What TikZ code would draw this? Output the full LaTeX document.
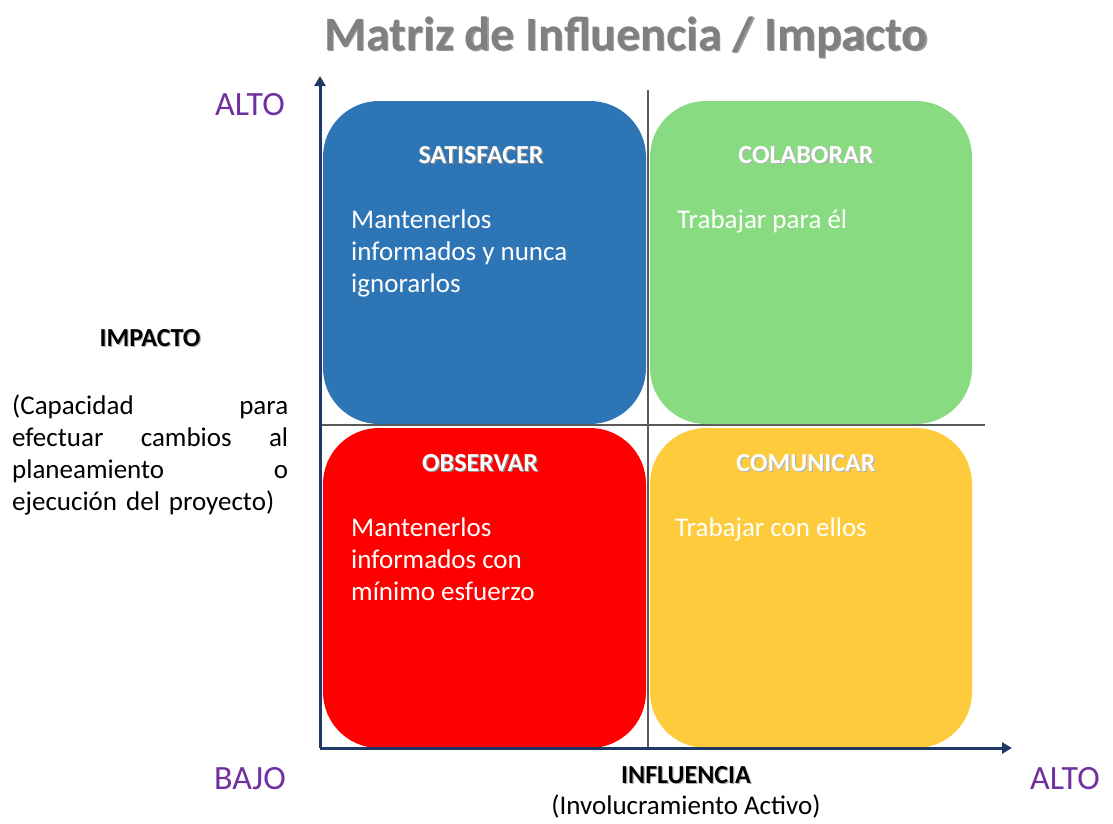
\documentclass[tikz,border=0pt]{standalone}
\usepackage{fontspec}
\setmainfont{Carlito}
\usepackage{xcolor}
\usepackage{tikz}
\usetikzlibrary{arrows.meta, positioning, calc}

\definecolor{cajaazul}{HTML}{2E75B6}
\definecolor{cajaverde}{HTML}{88DB80}
\definecolor{cajaroja}{HTML}{FF0000}
\definecolor{cajaamarilla}{HTML}{FDCB3B}
\definecolor{morado}{HTML}{7030A0}
\definecolor{ejeazul}{HTML}{1F3864}
\definecolor{grisrejilla}{HTML}{5A5A5A}
\definecolor{gristitulo}{HTML}{808080}

\newcommand{\conSombra}[2]{\leavevmode\rlap{\kern1.2pt\raisebox{-1.2pt}{\textcolor{#1}{#2}}}#2}

\begin{document}
\begin{tikzpicture}[x=1pt, y=-1pt]
\tikzstyle{cuadrante} = [rectangle, rounded corners=56pt, inner sep=0pt, draw=none]
\tikzstyle{encabezado} = [inner sep=0pt, anchor=base, text=white, font=\fontsize{26}{31}\selectfont\bfseries]
\tikzstyle{texto} = [inner sep=0pt, anchor=north west, align=left, text=white, font=\fontsize{27}{32}\selectfont]
\tikzstyle{nivel} = [inner sep=0pt, anchor=base, text=morado, font=\fontsize{34}{40}\selectfont]
\tikzstyle{eje} = [ejeazul, line width=3pt, -{Triangle[length=10pt,width=11pt]}]
\tikzstyle{rejilla} = [grisrejilla, line width=1.2pt]

\useasboundingbox (0,0) rectangle (1113,823);

% rejilla
\coordinate (vtop) at (648,90);
\coordinate (vbot) at (648,750);
\coordinate (hleft) at (320,425);
\coordinate (hright) at (985,425);
\draw[rejilla] (vtop) -- (vbot);
\draw[rejilla] (hleft) -- (hright);

% cuadrantes
\node[cuadrante, fill=cajaazul, minimum width=323pt, minimum height=323pt] (satisfacer) at (484.5,262.5) {};
\node[cuadrante, fill=cajaverde, minimum width=322pt, minimum height=323pt] (colaborar) at (811,262.5) {};
\node[cuadrante, fill=cajaroja, minimum width=323pt, minimum height=320pt] (observar) at (484.5,588) {};
\node[cuadrante, fill=cajaamarilla, minimum width=322pt, minimum height=320pt] (comunicar) at (811,588) {};

% ejes
\coordinate (origen) at (320,748);
\coordinate (ytop) at (320,76);
\coordinate (xend) at (1012,748);
\draw[eje] (origen) -- (ytop);
\draw[eje] (origen) -- (xend);

% titulo
\node[inner sep=0pt, anchor=base, text=gristitulo, font=\fontsize{48}{56}\selectfont\bfseries] (titulo) at (626,50) {\conSombra{black!40}{Matriz de Influencia / Impacto}};

% encabezados
\node[encabezado] (tsat) at (481,163) {\conSombra{black!45}{SATISFACER}};
\node[encabezado] (tcol) at (806,163) {\conSombra{black!30}{COLABORAR}};
\node[encabezado] (tobs) at (480,471) {\conSombra{black!45}{OBSERVAR}};
\node[encabezado] (tcom) at (806,471) {\conSombra{black!30}{COMUNICAR}};

% textos
\node[texto] (xsat) at (351,210) {Mantenerlos\\informados y nunca\\ignorarlos};
\node[texto] (xcol) at (677,210) {Trabajar para él};
\node[texto] (xobs) at (351,518) {Mantenerlos\\informados con\\mínimo esfuerzo};
\node[texto] (xcom) at (675,518) {Trabajar con ellos};

% niveles
\node[nivel] (altoy) at (250,115) {ALTO};
\node[nivel] (bajo) at (250,789) {BAJO};
\node[nivel] (altox) at (1065,789) {ALTO};

% ejes: nombres
\node[inner sep=0pt, anchor=base, font=\fontsize{26}{31}\selectfont\bfseries] (influencia) at (686,783) {\conSombra{black!30}{INFLUENCIA}};
\node[inner sep=0pt, anchor=base, font=\fontsize{27}{32}\selectfont] (involucra) at (686,814) {(Involucramiento Activo)};
\node[inner sep=0pt, anchor=base, font=\fontsize{26}{31}\selectfont\bfseries] (impacto) at (150,346) {\conSombra{black!30}{IMPACTO}};
\node[inner sep=0pt, anchor=north west, align=left, text width=276pt, font=\fontsize{27}{32}\selectfont] (capacidad) at (12,395) {(Capacidad\hfill para\\efectuar\hfill cambios\hfill al\\planeamiento\hfill o\\ejecución del proyecto)};
\end{tikzpicture}
\end{document}
